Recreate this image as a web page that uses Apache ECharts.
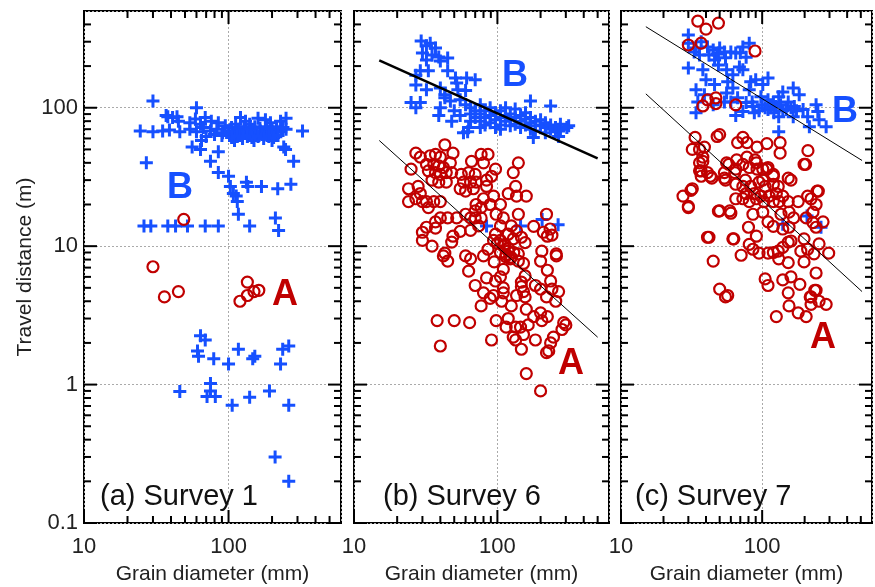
<!DOCTYPE html>
<html>
<head>
<meta charset="utf-8">
<script src="https://cdn.jsdelivr.net/npm/echarts@6/dist/echarts.min.js"></script>
<style>
html, body { margin: 0; padding: 0; background: #fff; }
#chart { width: 875px; height: 587px; }
</style>
</head>
<body>
<div id="chart"></div>
<script>
// survey 1 (panel a)
const s1Plus = [
    [30, 112], [60, 100],
    [37, 88], [41, 85], [45, 80], [54, 78], [59, 83], [64, 76], [69, 85], [76, 80], [85, 78], [121, 85], [131, 80],
    [160, 84], [180, 82], [195, 78], [229, 80], [250, 84], [140, 76], [112, 76], [38, 86], [44, 86],
    [24.5, 68], [30, 67], [35, 68], [39, 69], [46, 67], [54, 70], [60, 67], [67, 72], [75, 68], [83, 70], [91, 66],
    [100, 68], [107, 64], [113, 67], [121, 65], [129, 68], [137, 64], [146, 67], [156, 65], [166, 68], [177, 64],
    [190, 67], [202, 66], [215, 69], [230, 67], [250, 70], [325, 68],
    [105, 72], [118, 70], [128, 73], [142, 70], [152, 73], [165, 71], [185, 73], [200, 70], [215, 73], [238, 72],
    [95, 74], [170, 64], [110, 58], [150, 58], [200, 58],
    [105, 61], [115, 62], [125, 60], [135, 62], [145, 61], [160, 62], [175, 60], [190, 62], [205, 61], [220, 63],
    [90, 63], [80, 64], [70, 62], [65, 58],
    [56, 52], [64, 50], [85, 48], [241, 52], [248, 50], [27, 40], [75, 41], [282, 41],
    [85, 34], [100, 32], [103, 27], [133, 29], [136, 27], [169, 27], [219, 26], [270, 28], [108, 24], [113, 23], [115, 21],
    [117, 17], [140, 14], [211, 16], [222, 13], [26, 14], [29, 14], [38, 14], [43, 14], [52, 14], [69, 14], [85, 14],
    [64, 2.25], [69, 2.1], [61, 1.75], [62, 1.6], [79, 1.54], [100, 1.41], [117, 1.8], [147, 1.54], [152, 1.6],
    [237, 1.8], [261, 1.9], [229, 1.41], [46, 0.89], [75, 1.02], [71, 0.82], [81, 0.82], [75, 0.9], [106, 0.71],
    [140, 0.81], [192, 0.9], [261, 0.71], [210, 0.3], [261, 0.2]
];
const s1Ring = [
    [49, 15.6], [30, 7.1], [36, 4.3], [45, 4.7], [120, 4.0], [135, 4.4], [135, 5.5], [150, 4.7], [162, 4.8]
];

// survey 6 (panel b)
const s6Plus = [
    [29.4, 303], [34, 293], [32, 280], [37, 270], [30, 249], [35, 240], [39, 233], [45, 229], [40, 218], [32, 221],
    [29, 185], [27, 172], [33, 185], [45, 185], [51, 164], [61, 164], [70, 159], [27, 146], [32, 135], [40, 139],
    [43, 124], [52, 151], [53, 135], [60, 133], [25, 109], [29, 109], [27, 100], [40, 100], [39, 88], [43, 118],
    [47, 112], [55, 114], [60, 105], [50, 95], [55, 88], [48, 80], [63, 72], [58, 66],
    [65, 100], [65, 90], [65, 80], [70, 95], [70, 85], [76, 105], [76, 90], [76, 80], [76, 72], [82, 95], [82, 85],
    [82, 75], [89, 100], [89, 88], [89, 78], [97, 92], [97, 82], [97, 72], [105, 95], [105, 85], [105, 75], [105, 70],
    [114, 100], [114, 88], [114, 80], [123, 90], [123, 82], [123, 74], [133, 98], [133, 85], [133, 76], [145, 88],
    [145, 80], [145, 72], [157, 92], [157, 83], [157, 75], [170, 85], [170, 78], [170, 70], [184, 80], [184, 74],
    [184, 68], [200, 82], [200, 75], [216, 78], [216, 72], [216, 66], [235, 75], [235, 70], [254, 72], [254, 67],
    [275, 76], [275, 70], [305, 72], [314, 74], [267, 68], [235, 103], [170, 112], [62, 67], [178, 61], [267, 62],
    [84, 14], [145, 14], [205, 15.6], [265, 14.3]
];
const s6Ring = [
    [43, 54], [27, 47], [29, 44], [34, 45], [37, 46], [40, 44], [49, 47], [47, 40], [32, 39], [36, 39], [39, 38],
    [42, 37], [33, 35], [37, 34], [40, 33], [44, 34], [48, 34], [35, 30], [39, 29], [44, 29], [25, 36], [24, 26],
    [24, 21], [28, 27], [29, 24], [27, 22], [32, 21], [36, 21], [40, 21], [33, 19], [30, 21],
    [66, 41], [77, 46], [86, 46], [80, 40], [140, 40], [129, 34], [97, 36], [91, 32], [84, 30], [56, 33], [63, 34],
    [70, 33], [58, 29], [65, 29], [71, 29], [55, 26], [60, 25], [68, 26], [84, 27], [134, 27], [119, 24], [136, 23],
    [159, 23], [80, 22], [94, 23], [89, 20], [105, 20], [71, 20], [70, 18], [77, 19], [98, 17], [140, 17], [60, 17],
    [65, 16], [70, 16], [74, 14], [77, 16], [65, 13], [52, 16], [45, 16], [40, 16], [37, 15], [37, 13.5], [32, 13.7],
    [55, 12.8], [49, 11.8], [48, 10.7], [30, 12.6], [30, 11], [35, 10], [43, 8.9],
    [110, 16], [105, 14], [125, 14], [119, 12.2], [136, 12.9], [129, 11.3], [147, 11.6], [156, 10.6], [179, 13.9],
    [209, 12.6], [223, 11.8], [233, 13.3], [97, 12.2], [105, 11], [113, 10.3], [94, 11], [204, 9.2], [257, 8.8],
    [86, 9.5], [119, 9.2], [100, 10.5], [110, 10], [120, 9.6], [130, 9], [140, 8.8], [105, 9], [115, 8.7], [125, 8.3],
    [220, 17], [240, 12],
    [42, 8.5], [45, 7.8], [60, 8.5], [65, 8.1], [80, 8.5], [95, 7.7], [114, 8.4], [123, 8.1], [140, 7.8], [152, 7.5],
    [200, 7.8], [258, 8.5], [63, 6.6], [110, 6.8], [105, 6.0], [84, 5.9], [97, 5.6], [70, 5.2], [80, 4.6], [89, 4.2],
    [77, 3.7], [94, 4.4], [110, 5.0], [110, 4.6], [107, 4.0], [125, 3.7], [136, 4.4], [147, 5.5], [147, 5.1],
    [152, 4.7], [156, 4.3], [156, 6.1], [159, 3.5], [184, 5.2], [200, 4.9], [223, 6.7], [235, 5.6], [240, 4.9],
    [220, 4.3], [255, 4.0], [267, 4.7], [200, 3.3], [179, 3.1], [223, 3.1], [290, 2.8], [282, 2.5], [98, 2.9],
    [119, 3.0], [115, 2.6], [134, 2.6], [145, 2.6], [164, 2.7], [152, 2.3], [129, 2.2], [134, 2.1], [184, 2.1],
    [204, 2.9], [246, 2.2], [235, 2.0], [220, 1.7], [228, 1.75], [147, 1.8], [91, 2.1], [38, 2.9], [50, 2.9],
    [64, 2.8], [40, 1.9], [159, 1.2], [200, 0.9], [300, 2.7]
];
const s6FitB = [[15, 220], [500, 43]];
const s6FitA = [[15, 58], [500, 2.2]];

// survey 7 (panel c)
const s7Plus = [
    [30, 335], [30, 293], [33, 253], [36, 240], [41, 275], [45, 261], [49, 249], [54, 253], [60, 253], [65, 249],
    [73, 275], [77, 232], [81, 293], [30, 194], [38, 188], [46, 221], [49, 204], [56, 188], [62, 173], [69, 197],
    [73, 188], [40, 159], [46, 147], [34, 135], [39, 124], [57, 154], [62, 139], [83, 154], [90, 159], [110, 164],
    [101, 147], [81, 135], [56, 128], [35, 110], [34, 92], [54, 110], [67, 118], [77, 109], [73, 94], [86, 102],
    [88, 92], [98, 120], [110, 114], [120, 109], [140, 130], [166, 139], [183, 124], [110, 97], [121, 92], [131, 86],
    [148, 97], [166, 86], [195, 97], [131, 67], [216, 73], [210, 86], [241, 105], [248, 94], [253, 82], [284, 73],
    [131, 120], [153, 110], [169, 102], [100, 105], [105, 100], [115, 100], [125, 102], [135, 105], [140, 95],
    [160, 100], [175, 95], [95, 95], [85, 110], [60, 110], [45, 105], [48, 245], [42, 240], [55, 230], [37, 300],
    [34, 270], [50, 270], [70, 250], [65, 88],
    [208, 16.5], [261, 13.7], [140, 14.4]
];
const s7Ring = [
    [35, 423], [40, 370], [49, 409], [30, 284], [37, 293], [89, 257], [41, 114], [47, 118], [47, 107], [38, 103], [65, 105],
    [33.5, 61], [48, 62], [50, 64], [32, 50], [36, 50], [39, 52], [38, 44], [36, 40], [36, 35], [41, 34], [44, 31],
    [27.5, 23], [32, 26], [30, 19], [50, 18], [59, 18], [41, 11.6], [62, 11.3], [45, 7.8], [50, 4.9], [57, 4.4],
    [108, 55], [134, 56], [134, 47], [211, 49], [203, 39], [245, 25],
    [73, 61], [67, 56], [78, 56], [92, 52], [56, 40], [66, 42], [78, 44], [89, 42], [92, 36], [108, 36], [101, 30],
    [120, 32], [160, 30], [64, 34], [76, 30], [55, 30],
    [198, 39], [38, 41], [37, 35], [43, 32], [37, 32], [54, 34], [54, 31], [58, 39], [65, 36], [73, 39], [81, 37],
    [91, 40], [101, 36], [110, 37], [65, 28], [73, 27], [83, 27], [95, 29], [105, 27], [120, 28], [120, 33],
    [130, 27], [153, 31], [126, 24], [140, 23], [112, 23], [98, 23], [88, 24], [77, 24], [65, 22], [73, 22],
    [81, 21], [91, 22], [103, 21], [120, 21], [132, 21], [153, 21], [180, 21], [210, 23], [250, 25], [241, 20],
    [222, 22], [31.3, 25.3], [30, 19.4], [49, 17.9], [60, 17.3], [86, 17], [101, 17.6], [136, 17], [155, 17.6],
    [167, 16], [229, 17.6], [205, 16], [229, 14.8], [270, 15], [241, 13.7], [110, 15], [120, 13.9], [140, 13.3],
    [155, 13.7], [80, 13.7], [91, 11.8], [42, 11.6], [63, 11.3], [81, 10.3], [86, 9.5], [95, 8.9], [71, 8.6],
    [110, 8.9], [120, 9], [130, 9.2], [140, 9.8], [153, 10.7], [160, 10.9], [131, 8.1], [153, 7.6], [198, 11.3],
    [188, 9.2], [210, 9.5], [233, 8.8], [253, 10.4], [296, 8.9], [198, 7.7], [241, 6.4], [105, 5.8],
    [110, 5.2], [140, 5.7], [160, 6.0], [185, 5.3], [153, 4.6], [241, 4.8], [222, 4.3], [222, 3.8], [253, 4.0],
    [284, 3.8], [155, 3.7], [180, 3.3], [205, 3.1], [126, 3.1], [55, 4.3], [236, 4.8], [219, 4.3]
];
const s7FitB = [[15, 385], [510, 41.6]];
const s7FitA = [[15, 126], [510, 4.7]];

// tick positions on the log axes
const majorX = [10, 100];
const minorX = [20, 30, 40, 50, 60, 70, 80, 90, 200, 300, 400, 500];
const majorY = [0.1, 1, 10, 100];
const minorY = [0.2, 0.3, 0.4, 0.5, 0.6, 0.7, 0.8, 0.9, 2, 3, 4, 5, 6, 7, 8, 9, 20, 30, 40, 50, 60, 70, 80, 90, 200, 300, 400];

const panelTitles = ["(a) Survey 1", "(b) Survey 6", "(c) Survey 7"];

const BLUE = "#1650ff";
const RED = "#c00000";
const FONT = "Liberation Sans, Arial, sans-serif";
const PLUS = "path://M5,0h3v5h5v3h-5v5h-3v-5h-5v-3h5z";

const chart = echarts.init(document.getElementById("chart"), null, { renderer: "canvas" });

const grids = [
    { left: 84, top: 11, width: 257, height: 512 },
    { left: 354, top: 11, width: 255, height: 512 },
    { left: 621, top: 11, width: 251, height: 512 },
];

// only label whole decades
function decadeLabel(v) {
    const e = Math.log10(v);
    return Math.abs(e - Math.round(e)) < 1e-6 ? String(+v.toPrecision(3)) : "";
}

// tick data: [x, y, 0=x tick / 1=y tick, length]
const tickData = [];
majorX.forEach((v) => tickData.push([v, 1, 0, 13]));
minorX.forEach((v) => tickData.push([v, 1, 0, 7]));
majorY.forEach((v) => tickData.push([10, v, 1, 13]));
minorY.forEach((v) => tickData.push([10, v, 1, 7]));

function renderTick(params, api) {
    const cs = params.coordSys;
    const len = api.value(3);
    const st = { stroke: "#000", lineWidth: 2 };
    if (api.value(2) === 0) {
        const px = api.coord([api.value(0), 1])[0];
        const b = cs.y + cs.height;
        return {
            type: "group",
            children: [
                { type: "line", shape: { x1: px, y1: b, x2: px, y2: b - len }, style: st },
                { type: "line", shape: { x1: px, y1: cs.y, x2: px, y2: cs.y + len }, style: st },
            ],
        };
    }
    const py = api.coord([10, api.value(1)])[1];
    const r = cs.x + cs.width;
    return {
        type: "group",
        children: [
            { type: "line", shape: { x1: cs.x, y1: py, x2: cs.x + len, y2: py }, style: st },
            { type: "line", shape: { x1: r, y1: py, x2: r - len, y2: py }, style: st },
        ],
    };
}

const panels = [
    { plus: s1Plus, ring: s1Ring, fits: [] },
    { plus: s6Plus, ring: s6Ring, fits: [{ data: s6FitB, width: 2.5 }, { data: s6FitA, width: 1 }] },
    { plus: s7Plus, ring: s7Ring, fits: [{ data: s7FitB, width: 1 }, { data: s7FitA, width: 1 }] },
];

const xAxis = [];
const yAxis = [];
const series = [];

grids.forEach((g, i) => {
    xAxis.push({
        type: "log",
        gridIndex: i,
        min: 10,
        max: 600,
        axisLine: { show: false },
        axisTick: { show: false },
        axisLabel: { margin: 13, fontSize: 22, color: "#222", fontFamily: FONT, formatter: decadeLabel },
        splitLine: { show: true, lineStyle: { color: "#aaa", type: [2, 2], width: 1 } },
        name: "Grain diameter (mm)",
        nameLocation: "middle",
        nameGap: 41,
        nameTextStyle: { fontSize: 21, color: "#222", fontFamily: FONT },
    });
    yAxis.push({
        type: "log",
        gridIndex: i,
        min: 0.1,
        max: 500,
        axisLine: { show: false },
        axisTick: { show: false },
        axisLabel: { show: i === 0, margin: 6, fontSize: 22, color: "#222", fontFamily: FONT, formatter: decadeLabel },
        splitLine: { show: true, lineStyle: { color: "#aaa", type: [2, 2], width: 1 } },
        name: i === 0 ? "Travel distance (m)" : "",
        nameLocation: "middle",
        nameGap: 48,
        nameTextStyle: { fontSize: 21, color: "#222", fontFamily: FONT },
    });

    const p = panels[i];
    series.push({
        type: "scatter",
        xAxisIndex: i,
        yAxisIndex: i,
        data: p.plus,
        symbol: PLUS,
        symbolSize: 13,
        itemStyle: { color: BLUE, opacity: 1 },
        z: 3,
    });
    series.push({
        type: "scatter",
        xAxisIndex: i,
        yAxisIndex: i,
        data: p.ring,
        symbol: "circle",
        symbolSize: 11,
        itemStyle: { color: "rgba(0,0,0,0)", borderColor: RED, borderWidth: 2.2, opacity: 1 },
        z: 4,
    });
    p.fits.forEach((f) => {
        series.push({
            type: "line",
            xAxisIndex: i,
            yAxisIndex: i,
            data: f.data,
            symbol: "none",
            lineStyle: { color: "#000", width: f.width },
            z: 5,
        });
    });
    series.push({
        type: "custom",
        xAxisIndex: i,
        yAxisIndex: i,
        data: tickData,
        renderItem: renderTick,
        silent: true,
        z: 6,
    });
});

function letter(txt, x, y, color) {
    return {
        type: "text",
        x: x,
        y: y,
        z: 100,
        style: { text: txt, fill: color, font: "bold 36px " + FONT, align: "center", verticalAlign: "middle" },
    };
}

const titleX = [100, 383, 635];

const option = {
    animation: false,
    backgroundColor: "#fff",
    grid: grids.map((g) => ({
        ...g,
        show: true,
        borderColor: "#000",
        borderWidth: 2,
        containLabel: false,
        outerBoundsMode: "none",
    })),
    xAxis: xAxis,
    yAxis: yAxis,
    series: series,
    graphic: [
        letter("B", 180, 188, BLUE),
        letter("A", 285, 295, RED),
        letter("B", 515, 76, BLUE),
        letter("A", 571, 364, RED),
        letter("B", 845, 112, BLUE),
        letter("A", 823, 338, RED),
        ...panelTitles.map((t, i) => ({
            type: "text",
            x: titleX[i],
            y: 497,
            z: 100,
            style: { text: t, fill: "#111", font: "29px " + FONT, align: "left", verticalAlign: "middle" },
        })),
    ],
};

chart.setOption(option);
</script>
</body>
</html>
